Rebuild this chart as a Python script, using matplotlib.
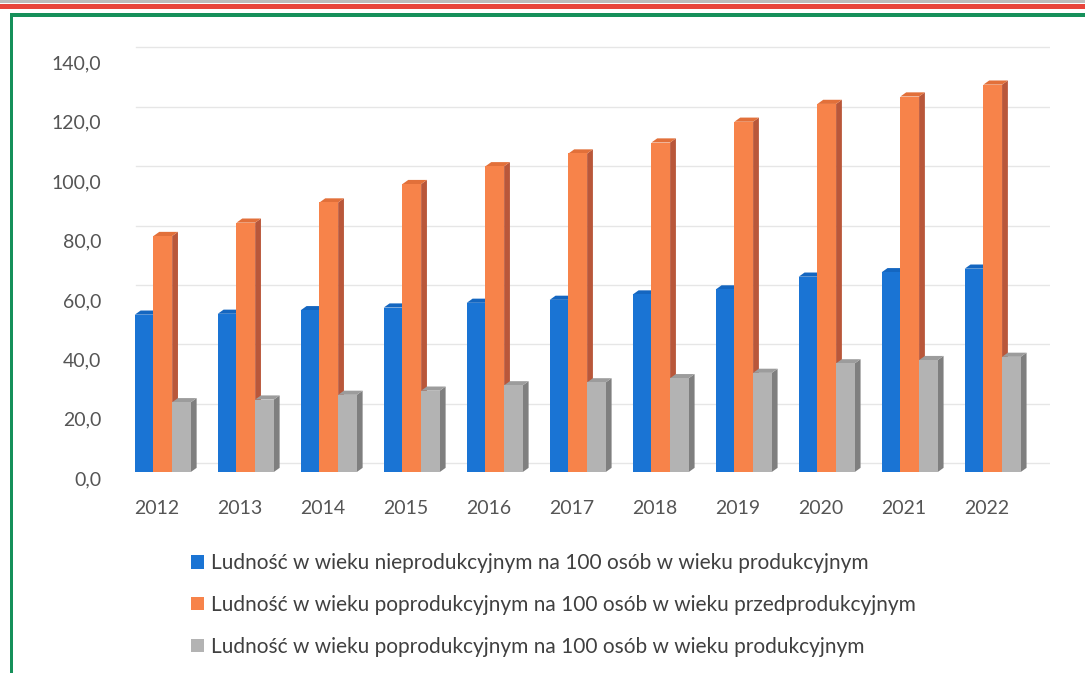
import numpy as np
import matplotlib
matplotlib.use("Agg")
import matplotlib.pyplot as plt
from matplotlib.patches import Polygon, Patch, Rectangle
from matplotlib.ticker import FuncFormatter
import matplotlib.transforms as mtransforms

plt.rcParams['font.family'] = ['Lato', 'DejaVu Sans']

# data
years = ['2012', '2013', '2014', '2015', '2016', '2017', '2018', '2019', '2020', '2021', '2022']
nieprod = [53.0, 53.3, 54.5, 55.4, 57.0, 58.0, 59.8, 61.5, 65.8, 67.3, 68.5]
poprod_przed = [79.5, 84.0, 90.8, 97.0, 103.0, 107.3, 111.0, 118.0, 124.0, 126.5, 130.5]
poprod_prod = [23.5, 24.4, 26.0, 27.4, 29.2, 30.2, 31.6, 33.4, 36.6, 37.7, 38.8]

labels = ['Ludność w wieku nieprodukcyjnym na 100 osób w wieku produkcyjnym',
          'Ludność w wieku poprodukcyjnym na 100 osób w wieku przedprodukcyjnym',
          'Ludność w wieku poprodukcyjnym na 100 osób w wieku produkcyjnym']

front_cols = ['#1a74d4', '#f7834a', '#b3b3b3']
side_cols = ['#0f55a0', '#b9573a', '#7f7f7f']
top_cols = ['#1466c0', '#e2703a', '#9c9c9c']

W, H = 1085, 673
fig = plt.figure(figsize=(W / 100, H / 100), dpi=100)

# axes placed in pixel terms
left_px, right_px = 118, 1050
base_px, top_px = 472, 41
ax = fig.add_axes([left_px / W, (H - base_px) / H, (right_px - left_px) / W, (base_px - top_px) / H])
ax.set_xlim(-0.47, 10.76)
ax.set_ylim(0, 145.2)

bw = 0.225        # bar width in category units
dx, dy = 0.07, 1.4  # 3d depth offsets (data units)
x = np.arange(len(years))

series = [nieprod, poprod_przed, poprod_prod]
for i in range(len(years)):
    for k, vals in enumerate(series):
        x0 = x[i] + (k - 1) * bw - bw / 2 + 0.07
        x1 = x0 + bw
        v = vals[i]
        side = Polygon([(x1, 0), (x1 + dx, dy), (x1 + dx, v + dy), (x1, v)],
                       closed=True, facecolor=side_cols[k], edgecolor='none', zorder=3)
        top = Polygon([(x0, v), (x0 + dx, v + dy), (x1 + dx, v + dy), (x1, v)],
                      closed=True, facecolor=top_cols[k], edgecolor='none', zorder=3)
        ax.add_patch(side)
        ax.add_patch(top)
        ax.bar(x0, v, width=bw, align='edge', color=front_cols[k], edgecolor='none', zorder=3)

# back-wall gridlines, lifted a bit above the front
yt = np.arange(0, 141, 20)
shift = mtransforms.ScaledTranslation(0.08, 0.09, fig.dpi_scale_trans)
for t in yt:
    ax.plot([-0.35, 10.76], [t, t], color='#e6e6e6', lw=1.0, zorder=1,
            transform=ax.transData + shift)

ax.set_yticks(yt)
ax.yaxis.set_major_formatter(FuncFormatter(lambda v, p: f'{v:.1f}'.replace('.', ',')))
ax.set_xticks(x)
ax.set_xticklabels(years)
ax.tick_params(axis='both', length=0, labelsize=14, colors='#555555')
ax.tick_params(axis='x', pad=20)
ax.tick_params(axis='y', pad=12)
for lbl in ax.get_yticklabels():
    lbl.set_transform(lbl.get_transform() + mtransforms.ScaledTranslation(0, -0.06, fig.dpi_scale_trans))
for s in ax.spines.values():
    s.set_visible(False)
ax.set_facecolor('none')

handles = [Patch(facecolor=c, edgecolor='none') for c in front_cols]
fig.legend(handles, labels, loc='upper left', bbox_to_anchor=(183 / W, 1 - 545 / H),
           frameon=False, fontsize=15, labelcolor='#404040', handlelength=0.6,
           handleheight=0.6, handletextpad=0.35, labelspacing=1.05, borderaxespad=0)

# scanned page frame lines
fig.add_artist(Rectangle((0, 1 - 3 / H), 1, 3 / H, transform=fig.transFigure,
                         facecolor='#bdbdbd', edgecolor='none'))
fig.add_artist(Rectangle((0, 1 - 9 / H), 1, 5 / H, transform=fig.transFigure,
                         facecolor='#e8453c', edgecolor='none'))
fig.add_artist(Rectangle((12 / W, 1 - 17 / H), 1, 4 / H, transform=fig.transFigure,
                         facecolor='#16905a', edgecolor='none'))
fig.add_artist(Rectangle((10 / W, 0), 3 / W, 1 - 13 / H, transform=fig.transFigure,
                         facecolor='#16905a', edgecolor='none'))

fig.savefig('out.png', dpi=100)
